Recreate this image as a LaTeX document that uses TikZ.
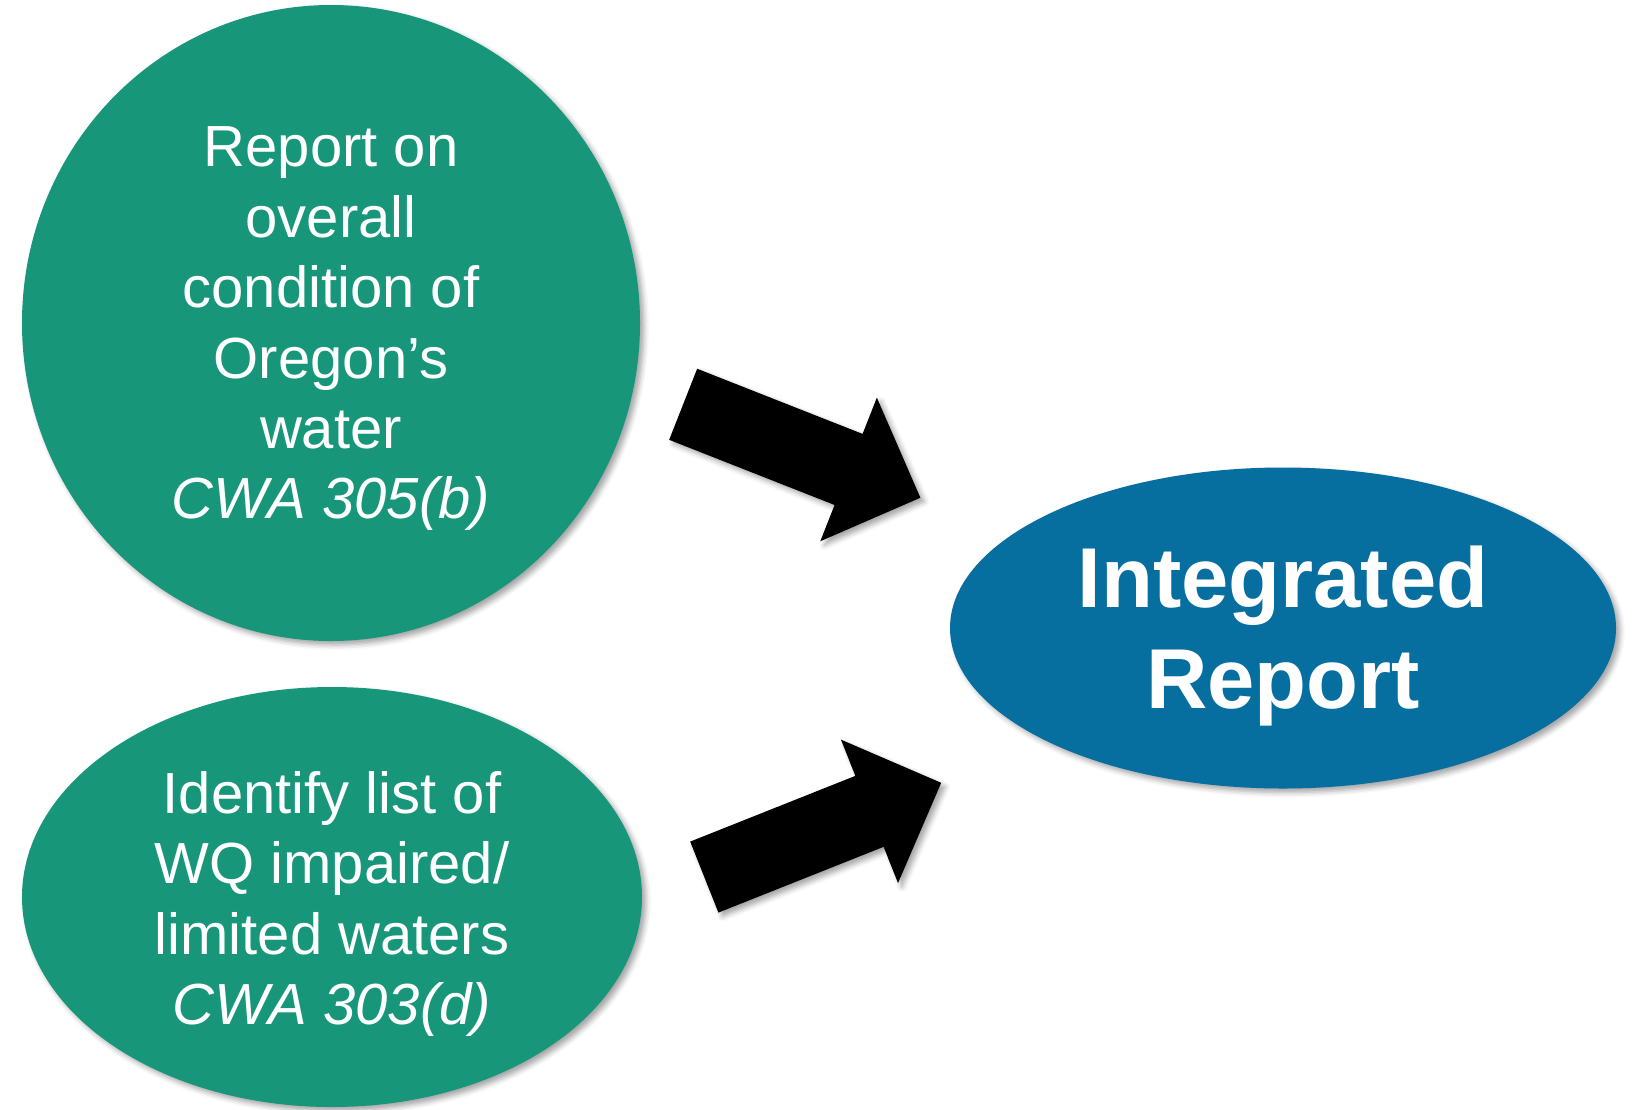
\documentclass[tikz,border=0pt]{standalone}
\usepackage{fontspec}
\setmainfont{Liberation Sans}
\usetikzlibrary{shapes.geometric,shapes.arrows,shadows.blur}

\definecolor{cwagreen}{RGB}{23,150,122}
\definecolor{irblue}{RGB}{7,110,160}

\tikzset{
  softshadow/.style={blur shadow={shadow xshift=4pt, shadow yshift=-4pt,
      shadow opacity=35, shadow blur radius=5pt}},
  bubble/.style={ellipse, fill=cwagreen, inner sep=0pt, softshadow},
  bubbletext/.style={text=white, align=center, inner sep=0pt,
    font=\fontsize{58}{70.4}\selectfont},
  reporttext/.style={bubbletext, font=\fontsize{85}{101}\selectfont\bfseries},
  fatarrow/.style={single arrow, fill=black, inner sep=0pt, softshadow,
    text height=38pt, text depth=38pt, minimum height=255pt,
    single arrow head extend=39pt}
}

\begin{document}
\begin{tikzpicture}[x=1pt, y=-1pt]
  \useasboundingbox (0,0) rectangle (1632,1109);

  % source bubbles
  \node[bubble, minimum width=618pt, minimum height=636pt] (sec305) at (331,323) {};
  \node[bubbletext, yshift=-6pt] (sec305txt) at (sec305)
    {Report on\\overall\\condition of\\Oregon’s\\water\\\textit{CWA 305(b)}};
  \node[bubble, minimum width=620pt, minimum height=420pt] (sec303) at (332,897) {};
  \node[bubbletext, yshift=-7pt] (sec303txt) at (sec303)
    {Identify list of\\WQ impaired/\\limited waters\\\textit{CWA 303(d)}};

  % result
  \node[bubble, fill=irblue, minimum width=666pt, minimum height=321pt] (intrep) at (1283,628) {};
  \node[reporttext, yshift=-8pt] (intreptxt) at (intrep) {Integrated\\Report};

  % block arrows
  \node[fatarrow, rotate=-21.5] (arrowA) at (784,444) {};
  \node[fatarrow, rotate=21.7] (arrowB) at (805,837) {};
\end{tikzpicture}
\end{document}
